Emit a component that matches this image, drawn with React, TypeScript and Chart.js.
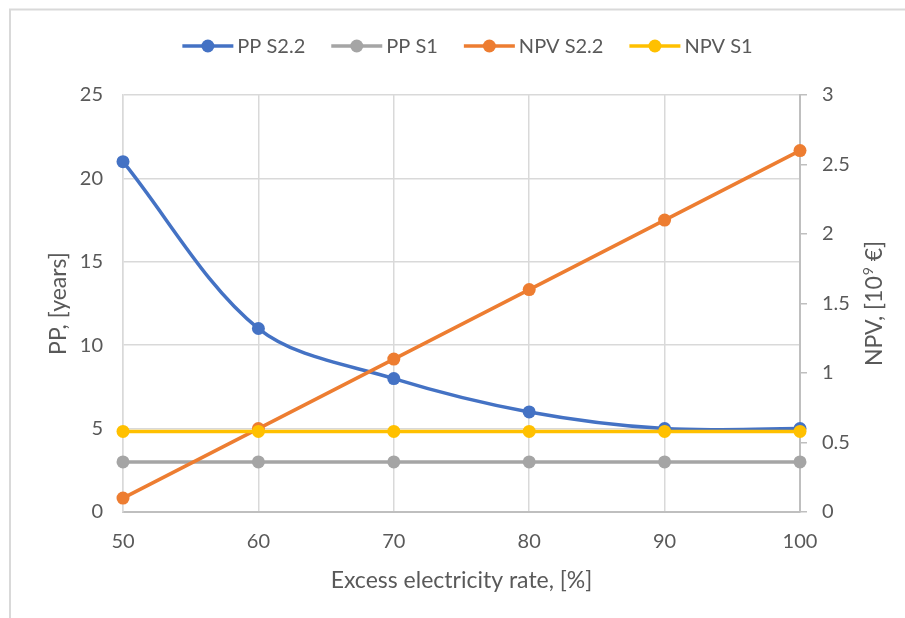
import { useEffect, useRef } from "react";
import { Chart, registerables } from "chart.js";

Chart.register(...registerables);

// Excess electricity rate, %
const rates = [50, 60, 70, 80, 90, 100];
// Payback period, years (left axis)
const ppS22 = [21, 11, 8, 6, 5, 5];
const ppS1 = [3, 3, 3, 3, 3, 3];
// Net present value, 10^9 € (right axis)
const npvS22 = [0.1, 0.6, 1.1, 1.6, 2.1, 2.6];
const npvS1 = [0.58, 0.58, 0.58, 0.58, 0.58, 0.58];

const xTitle = "Excess electricity rate, [%]";
const leftTitle = "PP, [years]";

const FONT = "Lato, 'Open Sans', sans-serif";
const TEXT = "#595959";
const GRID = "#D9D9D9";
const AXIS = "#BFBFBF";
const TICK_SIZE = 20;
const TITLE_SIZE = 23;
const LEGEND_SIZE = 20;

const toPoints = (ys: number[]) => rates.map((x, i) => ({ x, y: ys[i] }));

// Frame around the whole chart
const framePlugin = {
  id: "frame",
  beforeDraw(chart: any) {
    const { ctx, width, height } = chart;
    ctx.save();
    ctx.fillStyle = "#ffffff";
    ctx.fillRect(0, 0, width, height);
    ctx.strokeStyle = GRID;
    ctx.lineWidth = 2;
    ctx.strokeRect(10, 9.5, width + 20, height + 20);
    ctx.restore();
  },
};

// Legend: line with a round marker in the middle, then the series name
const legendPlugin = {
  id: "lineMarkerLegend",
  afterDraw(chart: any) {
    const { ctx } = chart;
    const items = chart.data.datasets.map((d: any) => ({ text: d.label, color: d.borderColor }));
    ctx.save();
    ctx.font = `${LEGEND_SIZE}px ${FONT}`;
    const lineLen = 51;
    const textGap = 4;
    const itemGap = 26;
    const widths = items.map((it: any) => lineLen + textGap + ctx.measureText(it.text).width);
    const total = widths.reduce((a: number, b: number) => a + b, 0) + itemGap * (items.length - 1);
    let x = 467.5 - total / 2;
    const y = 46;
    items.forEach((it: any, i: number) => {
      ctx.strokeStyle = it.color;
      ctx.lineWidth = 3.5;
      ctx.beginPath();
      ctx.moveTo(x, y);
      ctx.lineTo(x + lineLen, y);
      ctx.stroke();
      ctx.fillStyle = it.color;
      ctx.beginPath();
      ctx.arc(x + lineLen / 2, y, 6.5, 0, Math.PI * 2);
      ctx.fill();
      ctx.fillStyle = TEXT;
      ctx.textAlign = "left";
      ctx.textBaseline = "middle";
      ctx.fillText(it.text, x + lineLen + textGap, y + 1);
      x += widths[i] + itemGap;
    });
    ctx.restore();
  },
};

// Right axis title, reading bottom-to-top, with a superscript exponent
const rightTitlePlugin = {
  id: "rightTitle",
  afterDraw(chart: any) {
    const { ctx } = chart;
    const scale = chart.scales.y2;
    const cx = scale.right - 30;
    const cy = (scale.top + scale.bottom) / 2;
    const main = `${TITLE_SIZE}px ${FONT}`;
    const sup = `14px ${FONT}`;
    const a = "NPV, [10";
    const b = "9";
    const c = " €]";
    ctx.save();
    ctx.font = main;
    const wa = ctx.measureText(a).width;
    const wc = ctx.measureText(c).width;
    ctx.font = sup;
    const wb = ctx.measureText(b).width;
    const total = wa + wb + wc + 1;
    ctx.translate(cx, cy);
    ctx.rotate(-Math.PI / 2);
    ctx.fillStyle = TEXT;
    ctx.textAlign = "left";
    ctx.textBaseline = "middle";
    let x = -total / 2;
    ctx.font = main;
    ctx.fillText(a, x, 0);
    x += wa;
    ctx.font = sup;
    ctx.fillText(b, x + 1, -7);
    x += wb + 1;
    ctx.font = main;
    ctx.fillText(c, x, 0);
    ctx.restore();
  },
};

export default function App() {
  const canvasRef = useRef<HTMLCanvasElement | null>(null);

  useEffect(() => {
    let chart: Chart | null = null;
    let cancelled = false;

    const build = () => {
      if (cancelled || !canvasRef.current) return;
      const common = {
        pointRadius: 6.5,
        pointHoverRadius: 6.5,
        pointBorderWidth: 0,
        borderWidth: 3.5,
        clip: false as const,
      };
      chart = new Chart(canvasRef.current, {
        type: "line",
        data: {
          datasets: [
            {
              ...common,
              label: "PP S2.2",
              data: toPoints(ppS22),
              yAxisID: "y",
              borderColor: "#4472C4",
              backgroundColor: "#4472C4",
              pointBackgroundColor: "#4472C4",
              tension: 0.33,
              order: 3,
            },
            {
              ...common,
              label: "PP S1",
              data: toPoints(ppS1),
              yAxisID: "y",
              borderColor: "#A5A5A5",
              backgroundColor: "#A5A5A5",
              pointBackgroundColor: "#A5A5A5",
              order: 2,
            },
            {
              ...common,
              label: "NPV S2.2",
              data: toPoints(npvS22),
              yAxisID: "y2",
              borderColor: "#ED7D31",
              backgroundColor: "#ED7D31",
              pointBackgroundColor: "#ED7D31",
              order: 1,
            },
            {
              ...common,
              label: "NPV S1",
              data: toPoints(npvS1),
              yAxisID: "y2",
              borderColor: "#FFC000",
              backgroundColor: "#FFC000",
              pointBackgroundColor: "#FFC000",
              order: 0,
            },
          ],
        },
        options: {
          responsive: false,
          animation: false,
          devicePixelRatio: 1,
          layout: { padding: { top: 95, left: 0, right: 0, bottom: 0 } },
          plugins: {
            legend: { display: false },
            tooltip: { enabled: false },
          },
          scales: {
            x: {
              type: "linear",
              min: 50,
              max: 100,
              ticks: {
                stepSize: 10,
                color: TEXT,
                padding: 18,
                font: { family: FONT, size: TICK_SIZE },
              },
              grid: { color: GRID, lineWidth: 1.5, drawTicks: false },
              border: { color: AXIS, width: 2 },
              title: {
                display: true,
                text: xTitle,
                color: TEXT,
                font: { family: FONT, size: TITLE_SIZE },
                padding: { top: 0, bottom: 24 },
              },
              afterFit: (s: any) => {
                s.height = 106;
              },
            },
            y: {
              position: "left",
              min: 0,
              max: 25,
              ticks: {
                stepSize: 5,
                color: TEXT,
                padding: 20,
                font: { family: FONT, size: TICK_SIZE },
                callback: (v: any) => String(v),
              },
              grid: { color: GRID, lineWidth: 1.5, drawTicks: false },
              border: { color: GRID, width: 1.5 },
              title: {
                display: true,
                text: leftTitle,
                color: TEXT,
                font: { family: FONT, size: TITLE_SIZE },
                padding: { top: 45, bottom: 0 },
              },
              afterFit: (s: any) => {
                s.width = 123;
              },
            },
            y2: {
              position: "right",
              min: 0,
              max: 3,
              ticks: {
                stepSize: 0.5,
                color: TEXT,
                padding: 15,
                font: { family: FONT, size: TICK_SIZE },
                callback: (v: any) => String(v),
              },
              grid: {
                drawOnChartArea: false,
                drawTicks: true,
                tickLength: 7,
                color: AXIS,
                lineWidth: 1.5,
              },
              border: { color: AXIS, width: 2 },
              afterFit: (s: any) => {
                s.width = 105;
              },
            },
          },
        },
        plugins: [framePlugin, legendPlugin, rightTitlePlugin],
      });
    };

    const fontsReady = (document as any).fonts
      ? Promise.all([
          (document as any).fonts.load(`20px Lato`),
          (document as any).fonts.load(`14px Lato`),
        ]).catch(() => undefined)
      : Promise.resolve();
    fontsReady.then(build);

    return () => {
      cancelled = true;
      if (chart) chart.destroy();
    };
  }, []);

  return (
    <div style={{ position: "fixed", left: 0, top: 0, width: 905, height: 618, background: "#fff" }}>
      <canvas ref={canvasRef} width={905} height={618} style={{ display: "block" }} />
    </div>
  );
}
